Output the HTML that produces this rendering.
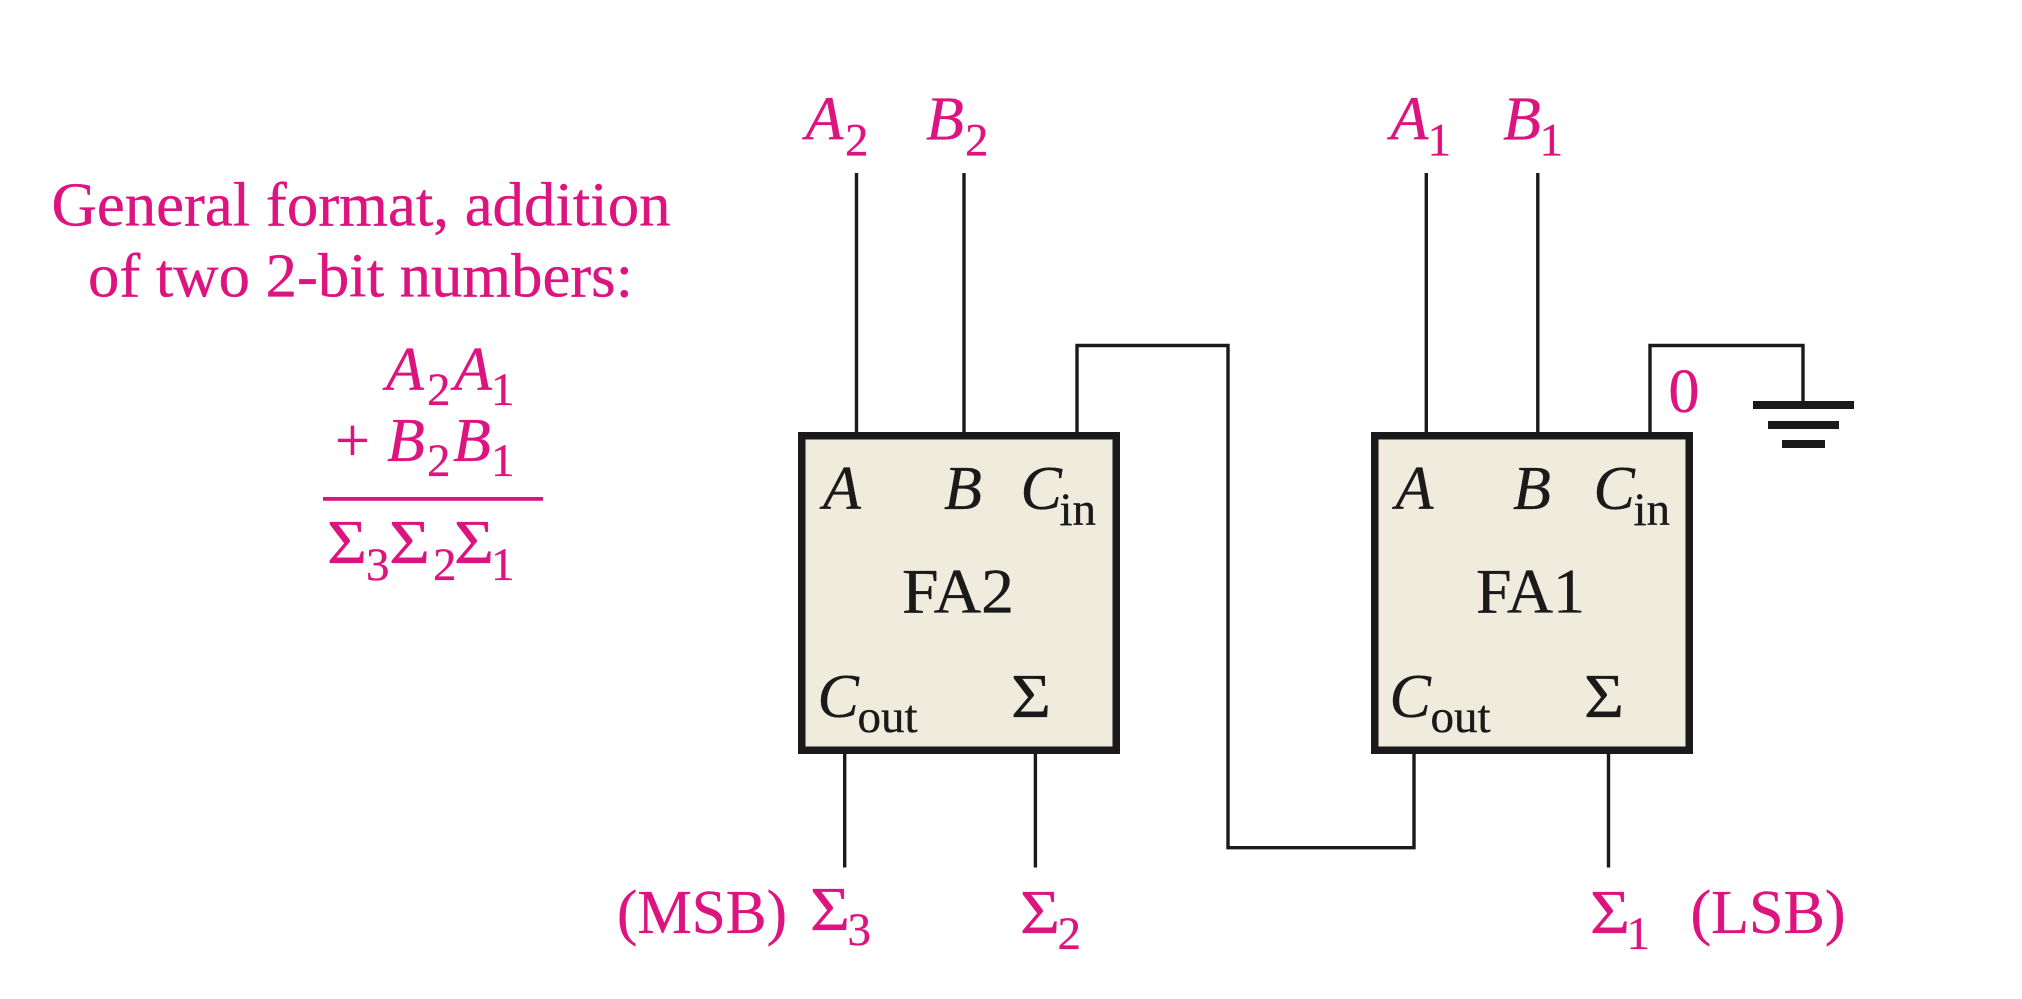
<!DOCTYPE html>
<html><head><meta charset="utf-8"><style>
html,body{margin:0;padding:0;background:#fff}
svg{display:block}
text{font-family:"Liberation Serif",serif;font-size:62px}
.m{fill:#dc1480;stroke:#dc1480;stroke-width:.35px}
.k{fill:#1a1a1a;stroke:#1a1a1a;stroke-width:.35px}
.i{font-style:italic}
.s{font-size:47px}
.f{font-size:63px}
</style></head><body>
<svg width="2022" height="999" viewBox="0 0 2022 999" xmlns="http://www.w3.org/2000/svg">
<rect width="2022" height="999" fill="#fff"/>
<g fill="none" stroke="#1a1a1a" stroke-width="3.4">
<path d="M856.5 173V432M964 173V432M1426.3 173V432M1537.8 173V432"/>
<path d="M1077 432V345.5H1228V847.7H1414V754"/>
<path d="M1650 432V345.5H1803V402"/>
<path d="M844.7 754V867.5M1035.4 754V867.5M1608.5 754V867.5"/>
</g>
<rect x="801.75" y="435.75" width="314.5" height="314.5" fill="#efebdd" stroke="#1a1a1a" stroke-width="7.5"/>
<rect x="1374.75" y="435.75" width="314.5" height="314.5" fill="#efebdd" stroke="#1a1a1a" stroke-width="7.5"/>
<g fill="#1a1a1a">
<rect x="1753" y="401" width="101" height="8"/>
<rect x="1768" y="421" width="71" height="8"/>
<rect x="1782" y="440" width="43" height="8"/>
</g>
<rect x="323" y="497" width="220" height="3.8" fill="#dc1480"/>

<text class="m" x="51.5" y="225.5" textLength="619" lengthAdjust="spacingAndGlyphs">General format, addition</text>
<text class="m" x="88" y="296.5" textLength="545" lengthAdjust="spacingAndGlyphs">of two 2-bit numbers:</text>

<text class="m i" x="386" y="390">A</text><text class="m s" x="427" y="405">2</text><text class="m i" x="454" y="390">A</text><text class="m s" x="491" y="405">1</text>
<text class="m" x="335" y="461">+</text><text class="m i" x="387" y="461">B</text><text class="m s" x="427" y="476">2</text><text class="m i" x="453" y="461">B</text><text class="m s" x="491" y="476">1</text>
<text class="m" x="327" y="563" textLength="40" lengthAdjust="spacingAndGlyphs">Σ</text><text class="m s" x="366" y="580">3</text><text class="m" x="389" y="563" textLength="41" lengthAdjust="spacingAndGlyphs">Σ</text><text class="m s" x="433" y="580">2</text><text class="m" x="454" y="563" textLength="40" lengthAdjust="spacingAndGlyphs">Σ</text><text class="m s" x="491" y="580">1</text>

<text class="m i" x="805.5" y="139.5">A</text><text class="m s" x="845" y="155.5">2</text>
<text class="m i" x="926" y="139.5">B</text><text class="m s" x="965" y="155.5">2</text>
<text class="m i" x="1390.5" y="139.5">A</text><text class="m s" x="1427.5" y="155.5">1</text>
<text class="m i" x="1503" y="139.5">B</text><text class="m s" x="1539.5" y="155.5">1</text>
<text class="m" x="1668.5" y="412">0</text>

<text class="k i" x="823" y="509">A</text><text class="k i" x="944" y="509">B</text>
<text class="k i" x="1020.5" y="509">C</text><text class="k s" x="1059.5" y="525">in</text>
<text class="k f" x="902" y="612.3" textLength="112" lengthAdjust="spacingAndGlyphs">FA2</text>
<text class="k i" x="817.5" y="717">C</text><text class="k s" x="857.5" y="732">out</text>
<text class="k" x="1011" y="717" textLength="40" lengthAdjust="spacingAndGlyphs">Σ</text>

<text class="k i" x="1395.5" y="509">A</text><text class="k i" x="1513" y="509">B</text>
<text class="k i" x="1593.5" y="509">C</text><text class="k s" x="1633.5" y="525">in</text>
<text class="k f" x="1476" y="612.3" textLength="109" lengthAdjust="spacingAndGlyphs">FA1</text>
<text class="k i" x="1389.5" y="717">C</text><text class="k s" x="1430.5" y="732">out</text>
<text class="k" x="1584" y="717" textLength="40" lengthAdjust="spacingAndGlyphs">Σ</text>

<text class="m" x="617" y="933" textLength="170" lengthAdjust="spacingAndGlyphs">(MSB)</text>
<text class="m" x="810" y="930" textLength="40" lengthAdjust="spacingAndGlyphs">Σ</text><text class="m s" x="847.5" y="945">3</text>
<text class="m" x="1020" y="933" textLength="40" lengthAdjust="spacingAndGlyphs">Σ</text><text class="m s" x="1057.5" y="949">2</text>
<text class="m" x="1590" y="933" textLength="40" lengthAdjust="spacingAndGlyphs">Σ</text><text class="m s" x="1626.5" y="949">1</text>
<text class="m" x="1690.5" y="933" textLength="155" lengthAdjust="spacingAndGlyphs">(LSB)</text>
</svg>
</body></html>
